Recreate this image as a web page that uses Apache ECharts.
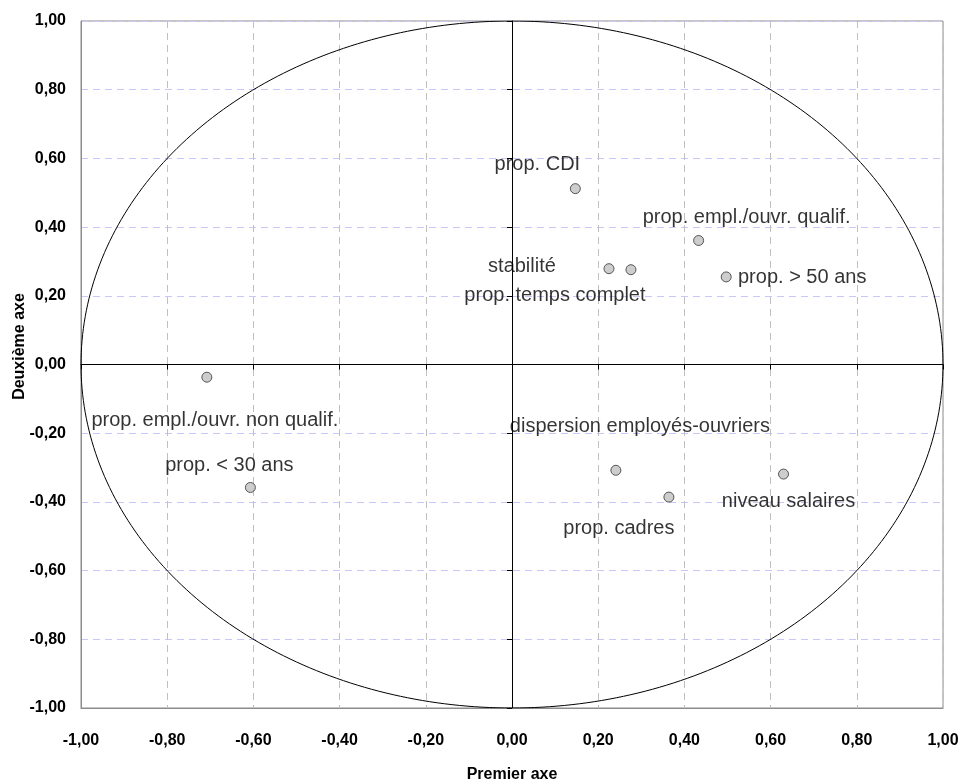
<!DOCTYPE html>
<html><head><meta charset="utf-8">
<script src="https://cdn.jsdelivr.net/npm/echarts@6/dist/echarts.min.js"></script>
<style>html,body{margin:0;padding:0;background:#fff}#c{width:964px;height:781px}</style>
</head><body><div id="c"></div>
<script>
// Data
var varNames = ["prop. CDI","prop. empl./ouvr. qualif.","stabilité","prop. temps complet","prop. > 50 ans","prop. empl./ouvr. non qualif.","prop. < 30 ans","dispersion employés-ouvriers","prop. cadres","niveau salaires"];
var axis1 = [0.147, 0.433, 0.225, 0.276, 0.497, -0.708, -0.607, 0.241, 0.364, 0.630];
var axis2 = [0.512, 0.361, 0.279, 0.276, 0.255, -0.037, -0.358, -0.308, -0.386, -0.319];
var xTitle = "Premier axe";
var yTitle = "Deuxième axe";

// label placement (layout only)
var labelOffsets = [[-38,-24],[48,-23],[-87,-2],[-76,26],[76,1],[8,43],[-21,-22],[24,-44],[-50,31],[5,27]];

var pts = varNames.map(function(n,i){
  return {name:n, value:[axis1[i], axis2[i]], label:{offset:labelOffsets[i]}};
});
// unit circle reference
var circle = [];
for (var a=0;a<=360;a+=1){var r=a*Math.PI/180;circle.push([Math.cos(r),Math.sin(r)]);}

var fmt = function(v){return v.toFixed(2).replace('.',',');};
var font = 'Liberation Sans, Arial, sans-serif';
var chart = echarts.init(document.getElementById('c'));
chart.setOption({
  animation:false,
  grid:{left:81,right:21,top:21,bottom:73,show:true,borderColor:'#8c8c8c',borderWidth:1,containLabel:false,outerBoundsMode:'none'},
  xAxis:[{
    type:'value',min:-1,max:1,interval:0.2,position:'bottom',
    name:xTitle,nameLocation:'middle',nameGap:59,
    nameTextStyle:{fontFamily:font,fontWeight:'bold',fontSize:16,color:'#000'},
    axisLine:{onZero:false,lineStyle:{color:'#8c8c8c'}},
    axisTick:{show:false},
    axisLabel:{formatter:fmt,fontFamily:font,fontWeight:'bold',fontSize:16,color:'#000',margin:25},
    splitLine:{show:true,lineStyle:{color:'#c0c0c0',type:[7,5]}}
  },{
    type:'value',min:-1,max:1,interval:0.2,position:'bottom',
    axisLine:{onZero:true,onZeroAxisIndex:0,lineStyle:{color:'#000'}},
    axisTick:{show:true,length:5,lineStyle:{color:'#000'}},
    axisLabel:{show:false},splitLine:{show:false}
  }],
  yAxis:[{
    type:'value',min:-1,max:1,interval:0.2,position:'left',
    name:yTitle,nameLocation:'middle',nameGap:53,nameRotate:90,nameMoveOverlap:false,
    nameTextStyle:{fontFamily:font,fontWeight:'bold',fontSize:16,color:'#000',padding:[0,0,0,36]},
    axisLine:{onZero:false,lineStyle:{color:'#8c8c8c'}},
    axisTick:{show:false},
    axisLabel:{formatter:fmt,fontFamily:font,fontWeight:'bold',fontSize:16,color:'#000',margin:15},
    splitLine:{show:true,lineStyle:{color:'#c8c8f4',type:[7,5]}}
  },{
    type:'value',min:-1,max:1,interval:0.2,position:'left',
    axisLine:{onZero:true,onZeroAxisIndex:0,lineStyle:{color:'#000'}},
    axisTick:{show:true,length:5,lineStyle:{color:'#000'}},
    axisLabel:{show:false},splitLine:{show:false}
  }],
  series:[{
    type:'line',data:circle,showSymbol:false,symbol:'none',smooth:false,
    lineStyle:{color:'#000',width:1},silent:true,z:2
  },{
    type:'scatter',data:pts,symbolSize:10,z:5,
    itemStyle:{color:'#c0c0c0',borderColor:'#333',borderWidth:1},
    label:{show:true,position:'inside',formatter:'{b}',fontFamily:font,fontSize:20,color:'#000',textBorderWidth:0,align:'center',verticalAlign:'middle'}
  }]
});
</script></body></html>
